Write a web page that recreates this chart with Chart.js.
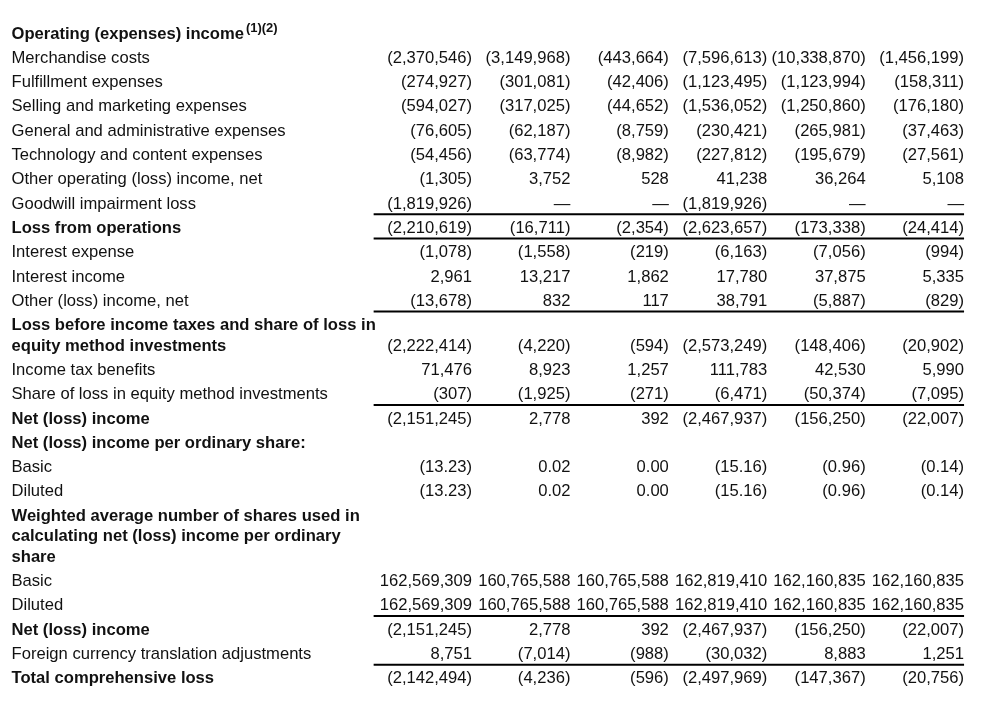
<!DOCTYPE html>
<html lang="en">
<head>
  <meta charset="UTF-8" />
  <title>Statement of operations</title>
  <script src="https://cdn.jsdelivr.net/npm/chart.js"></script>
  <style>
    body { margin: 0; background: #fff; }
  </style>
</head>
<body>
  <canvas id="tabela" width="986" height="701"></canvas>

  <script>
    const _ = undefined; // blank cell

    const rowLabels = [
      'Operating (expenses) income',
      'Merchandise costs',
      'Fulfillment expenses',
      'Selling and marketing expenses',
      'General and administrative expenses',
      'Technology and content expenses',
      'Other operating (loss) income, net',
      'Goodwill impairment loss',
      'Loss from operations',
      'Interest expense',
      'Interest income',
      'Other (loss) income, net',
      'Loss before income taxes and share of loss in\nequity method investments',
      'Income tax benefits',
      'Share of loss in equity method investments',
      'Net (loss) income',
      'Net (loss) income per ordinary share:',
      'Basic',
      'Diluted',
      'Weighted average number of shares used in\ncalculating net (loss) income per ordinary\nshare',
      'Basic',
      'Diluted',
      'Net (loss) income',
      'Foreign currency translation adjustments',
      'Total comprehensive loss'
    ];
    const titleNote = '(1)(2)';
    const boldRows = [0, 8, 12, 15, 16, 19, 22, 24];
    const perShareRows = [17, 18];
    const ruleBelow = [7, 8, 11, 14, 21, 23];

    const col1 = [_, -2370546, -274927, -594027, -76605, -54456, -1305, -1819926, -2210619, -1078, 2961, -13678,
      -2222414, 71476, -307, -2151245, _, -13.23, -13.23, _, 162569309, 162569309, -2151245, 8751, -2142494];
    const col2 = [_, -3149968, -301081, -317025, -62187, -63774, 3752, null, -16711, -1558, 13217, 832,
      -4220, 8923, -1925, 2778, _, 0.02, 0.02, _, 160765588, 160765588, 2778, -7014, -4236];
    const col3 = [_, -443664, -42406, -44652, -8759, -8982, 528, null, -2354, -219, 1862, 117,
      -594, 1257, -271, 392, _, 0.00, 0.00, _, 160765588, 160765588, 392, -988, -596];
    const col4 = [_, -7596613, -1123495, -1536052, -230421, -227812, 41238, -1819926, -2623657, -6163, 17780, 38791,
      -2573249, 111783, -6471, -2467937, _, -15.16, -15.16, _, 162819410, 162819410, -2467937, -30032, -2497969];
    const col5 = [_, -10338870, -1123994, -1250860, -265981, -195679, 36264, null, -173338, -7056, 37875, -5887,
      -148406, 42530, -50374, -156250, _, -0.96, -0.96, _, 162160835, 162160835, -156250, 8883, -147367];
    const col6 = [_, -1456199, -158311, -176180, -37463, -27561, 5108, null, -24414, -994, 5335, -829,
      -20902, 5990, -7095, -22007, _, -0.14, -0.14, _, 162160835, 162160835, -22007, 1251, -20756];
    const columns = [col1, col2, col3, col4, col5, col6];

    const FONT = '"Liberation Sans", Arial, sans-serif';
    const SIZE = 16.6;
    const LINE_GAP = 0.845;
    const LABEL_X = -3.68;
    const INK = '#111';

    function fmt(v, row) {
      if (v === null) return '\u2014';
      const dec = perShareRows.includes(row) ? 2 : 0;
      const s = Math.abs(v).toLocaleString('en-US', { minimumFractionDigits: dec, maximumFractionDigits: dec });
      return v < 0 ? '(' + s + ')' : s;
    }

    // vertical slot of each row (wrapped labels take extra, tighter lines)
    const rowTop = [];
    const rowY = [];
    let cursor = 0;
    rowLabels.forEach(l => {
      const n = l.split('\n').length;
      rowTop.push(cursor);
      rowY.push(cursor + (n - 1) * LINE_GAP);
      cursor += (n - 1) * LINE_GAP + 1;
    });

    const labelPoints = [];
    rowLabels.forEach((l, r) => {
      l.split('\n').forEach((line, k) => {
        labelPoints.push({
          x: LABEL_X, y: rowTop[r] + k * LINE_GAP, text: line,
          bold: boldRows.includes(r), note: r === 0 ? titleNote : null
        });
      });
    });

    const datasets = [{
      label: 'labels', data: labelPoints, pointRadius: 0, celltext: true, align: 'left'
    }];

    columns.forEach((col, c) => {
      const pts = [];
      col.forEach((v, r) => {
        if (v === undefined) return;
        pts.push({ x: c + 1, y: rowY[r], text: fmt(v, r), bold: false });
      });
      datasets.push({ label: 'col' + (c + 1), data: pts, pointRadius: 0, celltext: true, align: 'right' });
    });

    ruleBelow.forEach(r => {
      datasets.push({
        label: 'rule' + r,
        data: [{ x: 0, y: rowY[r] + 0.42 }, { x: 6, y: rowY[r] + 0.42 }],
        showLine: true, borderColor: '#000', borderWidth: 2, pointRadius: 0
      });
    });

    const textPlugin = {
      id: 'celltext',
      afterDatasetsDraw(chart) {
        const ctx = chart.ctx;
        ctx.save();
        ctx.fillStyle = INK;
        ctx.textBaseline = 'middle';
        chart.data.datasets.forEach((ds, i) => {
          if (!ds.celltext) return;
          const meta = chart.getDatasetMeta(i);
          meta.data.forEach((pt, j) => {
            const d = ds.data[j];
            ctx.font = (d.bold ? 'bold ' : '') + SIZE + 'px ' + FONT;
            ctx.textAlign = ds.align;
            ctx.fillText(d.text, pt.x, pt.y);
            if (d.note) {
              const w = ctx.measureText(d.text).width;
              ctx.font = 'bold 13px ' + FONT;
              ctx.textAlign = 'left';
              ctx.fillText(d.note, pt.x + w + 2, pt.y - 6);
            }
          });
        });
        ctx.restore();
      }
    };

    new Chart(document.getElementById('tabela'), {
      type: 'scatter',
      data: { datasets: datasets },
      options: {
        responsive: false,
        animation: false,
        devicePixelRatio: 1,
        layout: { padding: 0 },
        plugins: { legend: { display: false }, tooltip: { enabled: false } },
        scales: {
          x: { type: 'linear', display: false, min: -3.797, max: 6.223 },
          y: { type: 'linear', display: false, reverse: true, min: -1.4, max: 27.45 }
        }
      },
      plugins: [textPlugin]
    });
  </script>
</body>
</html>
